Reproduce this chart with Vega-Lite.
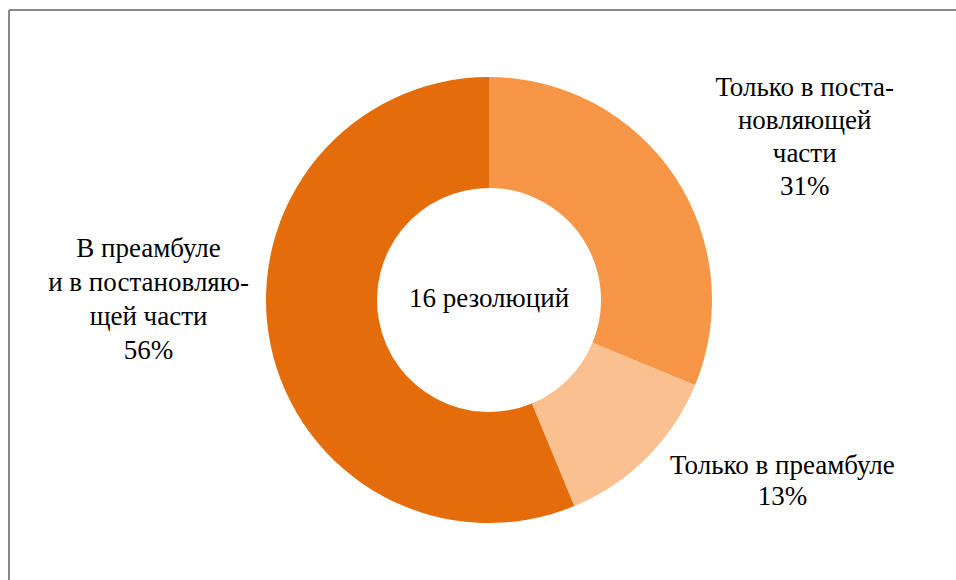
{
  "$schema": "https://vega.github.io/schema/vega-lite/v6.json",
  "width": 960,
  "height": 580,
  "autosize": {"type": "none"},
  "padding": {"left": 9, "top": 10, "right": -13, "bottom": -10},
  "background": "white",
  "config": {"view": {"stroke": null}, "font": "Liberation Serif"},
  "data": {
    "values": [
      {"cat": "Только в постановляющей части", "rank": 1, "n": 5, "label": ["Только в поста-", "новляющей", "части", "31%"]},
      {"cat": "Только в преамбуле", "rank": 2, "n": 2, "label": ["Только в преамбуле", "13%"]},
      {"cat": "В преамбуле и в постановляющей части", "rank": 3, "n": 9, "label": ["В преамбуле", "и в постановляю-", "щей части", "56%"]}
    ]
  },
  "layer": [
    {
      "data": {"values": [{"f": "frame"}]},
      "mark": {"type": "rule", "stroke": "#888888", "strokeWidth": 2},
      "encoding": {"y": {"value": 0}}
    },
    {
      "data": {"values": [{"f": "frame"}]},
      "mark": {"type": "rule", "stroke": "#888888", "strokeWidth": 2},
      "encoding": {"x": {"value": 0}}
    },
    {
      "mark": {"type": "arc", "innerRadius": 112, "outerRadius": 223},
      "encoding": {
        "theta": {"field": "n", "type": "quantitative", "stack": true, "scale": {"domain": [0, 16]}},
        "order": {"field": "rank", "type": "quantitative"},
        "color": {
          "field": "cat",
          "type": "nominal",
          "scale": {
            "domain": ["Только в постановляющей части", "Только в преамбуле", "В преамбуле и в постановляющей части"],
            "range": ["#F79646", "#FAC090", "#E46C0A"]
          },
          "legend": null
        }
      }
    },
    {
      "transform": [
        {"stack": "n", "groupby": [], "sort": [{"field": "rank", "order": "ascending"}], "as": ["t0", "t1"]},
        {"calculate": "(datum.t0 + datum.t1) / 2", "as": "tm"},
        {"filter": "datum.rank == 1"}
      ],
      "mark": {"type": "text", "radius": 340, "dx": 33, "dy": -23, "font": "Liberation Serif", "fontSize": 27, "lineHeight": 33, "align": "center", "baseline": "middle", "fill": "#000000"},
      "encoding": {
        "theta": {"field": "tm", "type": "quantitative", "scale": {"domain": [0, 16]}},
        "text": {"field": "label"}
      }
    },
    {
      "transform": [
        {"stack": "n", "groupby": [], "sort": [{"field": "rank", "order": "ascending"}], "as": ["t0", "t1"]},
        {"calculate": "(datum.t0 + datum.t1) / 2", "as": "tm"},
        {"filter": "datum.rank == 2"}
      ],
      "mark": {"type": "text", "radius": 340, "dx": 53, "dy": -74, "font": "Liberation Serif", "fontSize": 27, "lineHeight": 31, "align": "center", "baseline": "middle", "fill": "#000000"},
      "encoding": {
        "theta": {"field": "tm", "type": "quantitative", "scale": {"domain": [0, 16]}},
        "text": {"field": "label"}
      }
    },
    {
      "transform": [
        {"stack": "n", "groupby": [], "sort": [{"field": "rank", "order": "ascending"}], "as": ["t0", "t1"]},
        {"calculate": "(datum.t0 + datum.t1) / 2", "as": "tm"},
        {"filter": "datum.rank == 3"}
      ],
      "mark": {"type": "text", "radius": 340, "dx": -7, "dy": -117, "font": "Liberation Serif", "fontSize": 27, "lineHeight": 34, "align": "center", "baseline": "middle", "fill": "#000000"},
      "encoding": {
        "theta": {"field": "tm", "type": "quantitative", "scale": {"domain": [0, 16]}},
        "text": {"field": "label"}
      }
    },
    {
      "data": {"values": [{"t": "16 резолюций"}]},
      "mark": {"type": "text", "font": "Liberation Serif", "fontSize": 27, "align": "center", "baseline": "middle", "fill": "#000000", "dy": -1},
      "encoding": {"text": {"field": "t"}}
    }
  ]
}
